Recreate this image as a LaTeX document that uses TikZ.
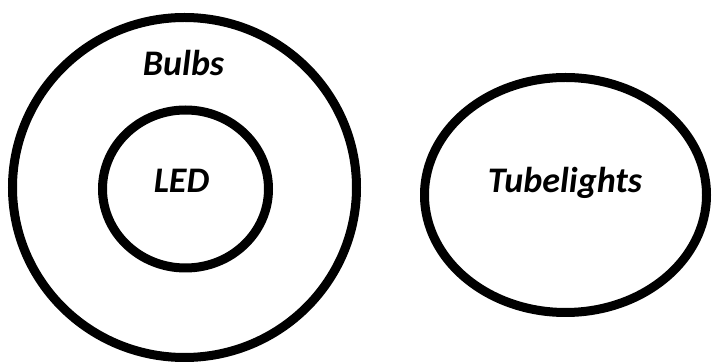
\documentclass[tikz,border=0pt]{standalone}
\usepackage{fontspec}
\setmainfont{Carlito}
\usepackage{tikz}

\begin{document}
\begin{tikzpicture}[x=1pt, y=-1pt,
        setline/.style={black, line width=9pt},
        setname/.style={anchor=base, font=\fontsize{36}{40}\selectfont\bfseries\itshape}]
        \useasboundingbox (0,0) rectangle (713,363);
        \coordinate (B) at (184.5,187.5);
        \coordinate (L) at (185.5,189);
        \coordinate (T) at (565.5,195);
        \draw[setline] (B) ellipse [x radius=172, y radius=170];
        \draw[setline] (L) ellipse [x radius=83, y radius=79];
        \draw[setline] (T) ellipse [x radius=141, y radius=117.5];
        \node[setname] (bulbs) at (183.5,76) {Bulbs};
        \node[setname] (led) at (181.5,193) {LED};
        \node[setname] (tube) at (565,193) {Tubelights};
    \end{tikzpicture}
\end{document}
